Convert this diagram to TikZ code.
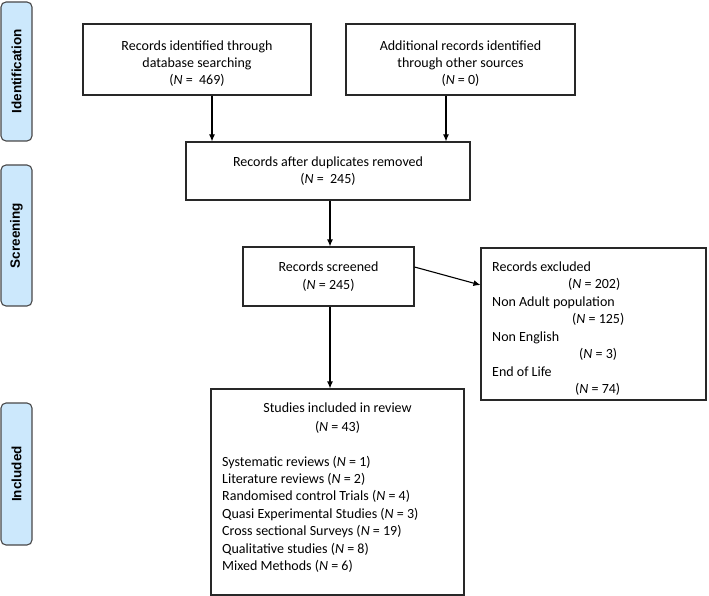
\documentclass[tikz,border=0pt]{standalone}
\usepackage{fontspec}
\setmainfont{Carlito}
\newfontfamily\labfont{Liberation Sans}
\usetikzlibrary{arrows.meta}
\definecolor{sidefill}{RGB}{204,232,252}
\definecolor{lineclr}{RGB}{40,40,40}
\begin{document}
\begin{tikzpicture}[x=1pt,y=-1pt,
 box/.style={draw=lineclr, line width=1.1pt, inner sep=0pt, align=center, font=\fontsize{14}{17.4}\selectfont},
 side/.style={draw=lineclr!85, fill=sidefill, rounded corners=5pt, line width=1.1pt, minimum width=31pt},
 sidetxt/.style={rotate=90, inner sep=0pt, font=\labfont\bfseries\fontsize{13.5}{16}\selectfont},
 arr/.style={-{Latex[length=7pt,width=6pt]}, line width=1.1pt, draw=black},
 txt/.style={font=\fontsize{14}{17.4}\selectfont, inner sep=0pt, anchor=base west},
 ctxt/.style={font=\fontsize{14}{17.4}\selectfont, inner sep=0pt, anchor=base}]
\useasboundingbox (0,0) rectangle (709,596);
% side labels
\node[side, minimum height=139pt] (s1) at (16.5,71.5) {};
\node[sidetxt] (s1t) at (s1.center) {Identification};
\node[side, minimum height=141pt] (s2) at (16.5,235.5) {};
\node[sidetxt] (s2t) at (s2.center) {Screening};
\node[side, minimum height=142pt] (s3) at (16.5,474) {};
\node[sidetxt] (s3t) at (s3.center) {Included};
% boxes
\node[box, minimum width=228pt, minimum height=71pt] (b1) at (197,59.5) {};
\node[ctxt] (b1a) at (197,51) {Records identified through};
\node[ctxt] (b1b) at (197,68) {database searching};
\node[ctxt] (b1c) at (197,85) {(\textit{N} =\ \ 469)};
\node[box, minimum width=229pt, minimum height=71pt] (b2) at (460.5,59.5) {};
\node[ctxt] (b2a) at (460.5,51) {Additional records identified};
\node[ctxt] (b2b) at (460.5,68) {through other sources};
\node[ctxt] (b2c) at (460.5,85) {(\textit{N} = 0)};
\node[box, minimum width=284pt, minimum height=58pt] (b3) at (328,171) {Records after duplicates removed\\(\textit{N} =\ \ 245)};
\node[box, minimum width=171pt, minimum height=59pt] (b4) at (328.5,276.5) {Records screened\\(\textit{N} = 245)};
\node[box, minimum width=225pt, minimum height=152pt] (b5) at (593.5,324) {};
\node[txt] (e1) at (492,271) {Records excluded};
\node[txt] (e2) at (568,288.5) {(\textit{N} = 202)};
\node[txt] (e3) at (492,306) {Non Adult population};
\node[txt] (e4) at (572,323.5) {(\textit{N} = 125)};
\node[txt] (e5) at (492,341) {Non English};
\node[txt] (e6) at (579,358.5) {(\textit{N} = 3)};
\node[txt] (e7) at (492,376) {End of Life};
\node[txt] (e8) at (575,393.5) {(\textit{N} = 74)};
\node[box, minimum width=253pt, minimum height=206pt] (b6) at (337.5,492) {};
\node[ctxt] (i1) at (337.5,412) {Studies included in review};
\node[ctxt] (i2) at (337.5,431) {(\textit{N} = 43)};
\node[txt] (l1) at (222,466) {Systematic reviews (\textit{N} = 1)};
\node[txt] (l2) at (222,483) {Literature reviews (\textit{N} = 2)};
\node[txt] (l3) at (222,500.5) {Randomised control Trials (\textit{N} = 4)};
\node[txt] (l4) at (222,518) {Quasi Experimental Studies (\textit{N} = 3)};
\node[txt] (l5) at (222,535.5) {Cross sectional Surveys (\textit{N} = 19)};
\node[txt] (l6) at (222,553) {Qualitative studies (\textit{N} = 8)};
\node[txt] (l7) at (222,570.5) {Mixed Methods (\textit{N} = 6)};
% connectors
\draw[arr] ([xshift=15pt]b1.south) -- ([xshift=15pt]b1.south |- b3.north);
\draw[arr] ([xshift=-14.5pt]b2.south) -- ([xshift=-14.5pt]b2.south |- b3.north);
\draw[arr] ([xshift=1.5pt]b4.north |- b3.south) -- ([xshift=1.5pt]b4.north);
\draw[arr] ([xshift=1.5pt]b4.south) -- ([xshift=1.5pt]b4.south |- b6.north);
\draw[arr] ([yshift=9.5pt]b4.east) -- ([yshift=39pt]b5.west);
\end{tikzpicture}
\end{document}
